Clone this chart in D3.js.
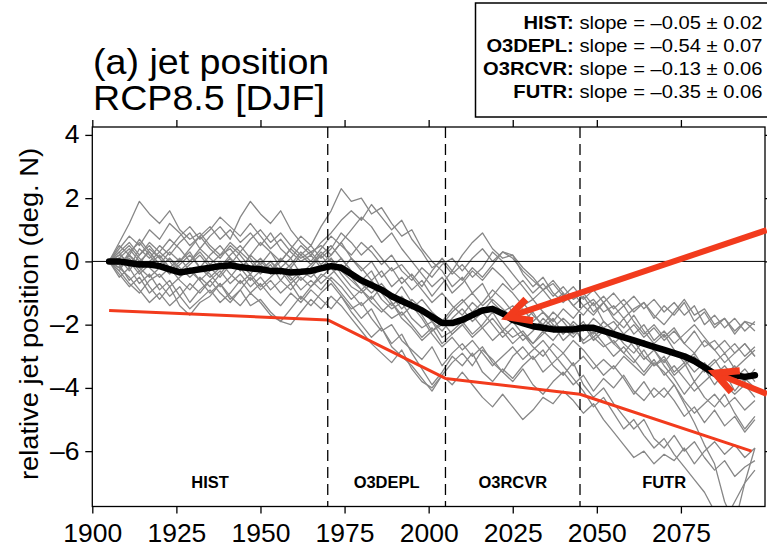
<!DOCTYPE html>
<html><head><meta charset="utf-8">
<script src="https://cdn.jsdelivr.net/npm/d3@7"></script>
<style>body{margin:0;background:#fff} svg{display:block;font-family:"Liberation Sans",Arial,Helvetica,sans-serif}</style>
</head><body><svg id="c" width="767" height="549"></svg>
<script>
// ---------------- DATA ----------------
const years = [1905,1908,1911,1914,1917,1920,1923,1926,1929,1932,1935,1938,1941,1944,1947,
  1950,1953,1956,1959,1962,1965,1968,1971,1974,1977,1980,1983,1986,1989,1992,1995,1998,2001,2004,2007,
  2010,2013,2016,2019,2022,2025,2028,2031,2034,2037,2040,2043,2046,2049,2052,2055,2058,2061,2064,2067,
  2070,2073,2076,2079,2082,2085,2088,2091,2094,2097];

const ensembleMean = [0,0,-0.05,-0.1,-0.1, -0.15,-0.25,-0.35,-0.3,-0.25, -0.2,-0.15,-0.12,-0.18,-0.22,
  -0.25,-0.3,-0.3,-0.35,-0.33, -0.3,-0.22,-0.15,-0.2,-0.4, -0.6,-0.75,-0.9,-1.1,-1.25,
  -1.4,-1.55,-1.75,-1.95,-1.95, -1.85,-1.7,-1.55,-1.5,-1.65, -1.85,-1.95,-2.05,-2.1,-2.15,
  -2.15,-2.15,-2.1,-2.1,-2.2, -2.3,-2.4,-2.5,-2.6,-2.7, -2.8,-2.9,-3.0,-3.15,-3.35, -3.55,-3.6,-3.6,-3.65,-3.6];

const member01 = [0,0.6,1.2,1.9,1.5, 1.2,1.6,1.0,0.7,0.9, 0.5,0.2,0.4,0.0,-0.3, -0.1,-0.4,-0.2,-0.6,-0.3, -0.5,-0.2,0.1,-0.4,-0.8, -1.0,-0.7,-1.2,-1.5,-1.3, -1.8,-2.1,-1.9,-2.4,-2.2, -1.9,-2.3,-2.0,-1.6,-2.1, -2.4,-2.2,-2.6,-2.3,-2.0, -2.5,-2.2,-1.9,-2.4,-2.7, -2.5,-2.9,-3.2,-2.8,-3.3, -3.0,-3.5,-3.2,-3.8,-3.4, -3.9,-3.5,-4.1,-3.7,-4.0];
const member02 = [0,0.3,-0.2,0.4,0.1, 0.5,0.2,0.6,0.9,0.4, 0.8,1.1,0.7,1.4,1.9, 1.5,1.2,1.6,1.0,0.6, 0.3,0.5,0.2,0.6,0.1, -0.3,0.0,-0.5,-0.2,-0.7, -0.4,-0.8,-0.3,0.1,-0.3, 0.2,0.6,0.9,0.4,0.1, 0.2,-0.4,-0.8,-0.5,-1.0, -1.3,-1.0,-1.4,-1.2,-1.6, -1.4,-1.8,-1.5,-1.3,-1.7, -2.0,-1.6,-1.2,-1.7,-1.5, -2.0,-1.8,-2.2,-1.9,-2.0];
const member03 = [0,-0.3,0.2,-0.1,0.4, 0.1,-0.3,0.0,0.3,-0.2, 0.2,0.5,0.1,-0.3,0.2, 0.6,0.3,0.0,0.4,0.8, 0.5,1.1,1.6,2.3,1.9, 2.0,1.5,1.7,1.2,0.8, 1.0,0.4,0.0,-0.3,-0.8, -0.5,-1.0,-0.7,-1.3,-1.6, -1.4,-1.9,-1.6,-2.1,-1.8, -2.3,-2.0,-2.6,-2.4,-2.1, -2.6,-2.9,-2.5,-3.0,-3.3, -3.1,-3.6,-3.3,-3.0,-3.5, -3.2,-2.9,-3.4,-3.1,-2.8];
const member04 = [0,-0.4,-0.8,-0.5,-1.0, -0.7,-1.1,-0.8,-1.3,-0.9, -0.6,-1.0,-1.3,-0.9,-1.4, -1.2,-1.6,-1.9,-1.5,-1.1, -1.4,-1.0,-0.7,-1.1,-1.5, -1.3,-1.8,-2.2,-2.0,-2.5, -2.8,-3.1,-2.7,-3.3,-2.9, -2.6,-3.0,-2.7,-3.2,-3.5, -3.0,-2.7,-3.1,-2.8,-3.3, -3.6,-3.2,-3.9,-4.3,-4.0, -4.5,-4.9,-5.3,-5.0,-5.6, -5.9,-5.5,-6.0,-5.7,-6.2, -6.6,-6.3,-6.8,-6.5,-6.3];
const member05 = [0,0.2,0.5,0.1,-0.2, -0.5,-0.2,-0.6,-0.9,-0.5, -0.8,-0.4,0.0,-0.3,0.2, -0.1,0.3,-0.2,0.1,-0.4, -0.2,0.2,0.5,0.1,-0.3, -0.6,-0.3,-0.9,-1.2,-0.8, -1.3,-1.7,-2.2,-2.0,-1.6, -1.3,-1.0,-1.4,-1.1,-0.7, -1.0,-1.4,-1.2,-1.6,-1.9, -1.5,-1.8,-1.4,-1.7,-1.3, -1.7,-1.4,-1.9,-2.3,-2.0, -2.4,-2.1,-2.6,-2.2,-2.7, -2.5,-2.9,-2.6,-3.0,-2.7];
const member06 = [0,-0.2,0.1,-0.3,0.0, 0.3,0.0,-0.4,-0.1,0.2, -0.2,-0.5,-0.1,0.3,0.0, -0.4,-0.1,-0.6,-0.9,-0.5, -0.8,-0.4,-0.6,-1.0,-1.4, -1.8,-1.5,-2.1,-2.6,-2.3, -2.9,-3.4,-3.9,-3.5,-3.0, -3.3,-2.9,-3.5,-3.8,-3.4, -3.7,-3.3,-3.0,-3.5,-3.2, -2.9,-3.3,-3.0,-3.4,-3.1, -3.4,-3.0,-3.3,-3.6,-3.2, -3.5,-3.9,-4.5,-5.1,-5.8, -6.4,-7.6,-8.3,-7.0,-5.9];
const member07 = [0,-0.5,-0.2,-0.7,-0.4, -0.9,-0.6,-1.1,-1.5,-1.2, -0.9,-1.3,-1.0,-0.6,-1.0, -0.7,-1.1,-1.4,-1.0,-1.3, -0.9,-1.2,-1.5,-1.1,-1.6, -2.0,-2.4,-2.1,-2.7,-3.0, -3.3,-3.7,-4.1,-3.6,-3.9, -3.5,-3.9,-4.3,-4.6,-4.2, -4.6,-5.0,-4.7,-4.3,-4.5, -4.1,-4.4,-4.8,-4.5,-5.0, -5.4,-5.8,-6.2,-6.0,-6.4, -6.1,-6.3,-5.9,-6.4,-6.0, -5.7,-6.1,-5.8,-6.2,-5.9];
const member08 = [0,0.4,0.8,0.5,1.0, 0.7,1.2,0.9,0.5,0.8, 0.4,0.1,0.5,0.2,-0.2, 0.1,-0.3,0.0,0.4,0.1, 0.3,-0.1,0.2,0.6,1.0, 1.4,1.1,0.6,0.9,0.4, 0.0,-0.4,-0.8,-0.5,-1.0, -0.7,-0.3,-0.6,-0.2,-0.5, -0.9,-0.6,-1.0,-0.7,-1.1, -0.8,-1.2,-1.0,-1.4,-1.1, -1.5,-1.2,-1.6,-1.3,-1.8, -1.4,-1.7,-1.3,-1.9,-1.6, -2.1,-1.8,-2.3,-1.9,-2.2];
const member09 = [0,-0.1,-0.6,-0.3,-0.8, -1.2,-0.8,-1.4,-1.7,-1.3, -1.1,-0.7,-1.2,-0.9,-0.5, -0.9,-0.6,-1.0,-0.7,-1.2, -0.8,-0.5,-0.2,-0.6,-1.0, -1.4,-1.1,-1.5,-1.8,-1.6, -2.0,-2.4,-2.1,-2.6,-2.3, -2.0,-1.7,-2.1,-2.5,-2.2, -2.6,-2.3,-2.7,-3.0,-2.6, -2.9,-2.5,-2.8,-3.2,-3.6, -3.3,-3.7,-4.2,-3.8,-4.3, -4.0,-4.4,-4.9,-4.6,-5.1, -4.7,-5.2,-4.9,-5.4,-5.0];
const member10 = [0,0.5,0.2,0.7,0.3, -0.1,0.3,0.0,0.4,0.8, 1.1,0.7,1.0,0.6,0.9, 0.5,0.9,0.4,0.1,0.5, 0.2,0.6,0.9,1.3,1.6, 1.3,1.8,1.4,1.0,1.3, 0.7,0.3,-0.2,0.0,-0.4, -0.1,-0.5,-0.2,0.3,0.0, -0.4,-0.8,-1.2,-0.9,-1.3, -1.0,-1.4,-1.7,-1.3,-1.9, -2.2,-1.8,-2.3,-2.0,-2.5, -2.2,-2.6,-2.3,-2.0,-2.4, -2.8,-2.5,-2.9,-2.6,-3.0];
const member11 = [0,-0.3,-0.7,-1.0,-0.6, -0.4,-0.8,-0.5,-0.2,-0.6, -1.0,-0.7,-1.1,-1.4,-1.0, -1.3,-1.7,-1.9,-2.0,-1.6, -1.2,-1.5,-1.1,-1.4,-1.8, -2.2,-2.6,-2.9,-3.2,-2.8, -3.4,-3.8,-4.0,-3.6,-3.2, -2.9,-3.3,-2.8,-3.1,-3.5, -3.8,-3.4,-3.9,-4.2,-3.8, -3.5,-3.9,-3.6,-4.1,-3.7, -4.0,-3.6,-4.1,-4.4,-4.0, -4.3,-3.9,-4.4,-4.8,-4.5, -4.2,-4.6,-4.3,-4.7,-4.4];
const member12 = [0,0.1,-0.3,0.2,0.6, 0.3,0.7,0.4,0.0,0.3, -0.1,0.2,0.6,0.3,0.7, 1.0,0.6,0.9,0.5,0.2, -0.1,0.3,0.0,-0.3,0.1, -0.2,-0.6,-0.3,-0.8,-0.5, -0.9,-0.6,-1.1,-0.7,-0.3, -0.6,-0.2,-0.5,-0.1,0.3, 0.2,-0.2,-0.5,-0.9,-0.6, -1.0,-1.4,-1.1,-1.6,-1.3, -1.8,-2.1,-1.7,-2.2,-2.6, -2.3,-2.8,-3.2,-2.9,-3.4, -3.1,-3.6,-3.3,-3.8,-3.4];
const member13 = [0,0.2,0.0,-0.4,-0.1, 0.2,-0.2,0.1,-0.3,-0.6, -0.3,0.0,-0.4,-0.7,-0.4, -0.8,-0.5,-0.2,-0.5,-0.9, -0.6,-0.9,-0.5,-0.8,-1.2, -0.9,-1.3,-1.6,-1.3,-1.8, -2.1,-2.5,-2.2,-1.9,-2.3, -2.0,-2.4,-2.1,-1.8,-2.2, -1.9,-2.3,-2.6,-2.2,-2.5, -2.1,-2.4,-2.0,-2.3,-1.9, -2.2,-2.6,-2.9,-2.5,-2.8, -3.2,-2.8,-3.1,-3.5,-3.2, -3.6,-3.3,-3.7,-3.4,-3.8];
const member14 = [0,0.3,0.6,0.2,0.5, 0.1,0.4,0.8,1.1,0.7, 1.0,1.4,1.1,0.8,1.2, 0.8,0.4,0.7,0.3,0.0, 0.2,-0.2,0.1,-0.3,-0.6, -0.9,-0.6,-1.0,-1.4,-1.1, -1.5,-1.2,-1.6,-1.9,-1.5, -1.2,-1.6,-1.3,-0.9,-1.2, -1.6,-1.3,-1.7,-2.0,-1.6, -1.9,-2.3,-2.0,-2.5,-2.2, -2.6,-2.3,-2.7,-3.1,-2.8, -3.3,-3.7,-4.2,-3.8,-4.3, -4.6,-4.2,-4.8,-5.3,-4.9];
const member15 = [0,-0.2,-0.5,-0.9,-1.3, -1.0,-1.4,-1.1,-0.7,-1.0, -0.6,-0.3,-0.7,-0.4,-0.8, -0.5,-0.9,-0.6,-0.2,-0.6, -0.3,-0.7,-0.4,-0.1,-0.5, -0.9,-1.2,-0.8,-1.3,-1.7, -1.4,-1.8,-2.3,-2.7,-2.4, -2.8,-2.5,-2.9,-3.3,-3.0, -2.7,-3.1,-2.8,-2.5,-2.9, -3.3,-3.7,-4.1,-4.6,-4.3, -4.8,-5.3,-5.0,-5.5,-5.9, -5.6,-6.1,-6.5,-6.9,-7.3, -7.9,-8.2,-7.6,-7.0,-6.6];
const member16 = [0,-0.2,0.3,0.6,0.2, -0.2,0.1,-0.3,0.0,0.4, 0.1,-0.2,0.2,0.5,0.1, -0.3,0.0,-0.4,-0.1,0.3, 0.0,0.4,0.8,0.5,0.2, 0.6,0.3,-0.1,0.2,-0.3, -0.6,-0.2,-0.5,-0.1,0.1, -0.3,0.1,0.4,0.0,0.3, 0.1,-0.3,-0.6,-0.9,-0.7, -1.1,-0.8,-1.2,-0.9,-1.3, -1.0,-1.4,-1.1,-1.5,-1.2, -1.6,-1.3,-1.7,-1.4,-2.0, -1.7,-2.1,-1.8,-2.2,-1.9];
const member17 = [0,0.1,0.4,0.0,0.3, -0.1,-0.4,-0.1,0.2,-0.2, -0.5,-0.2,0.1,-0.2,-0.6, -0.3,0.0,-0.3,-0.7,-0.4, -0.1,0.2,-0.2,0.1,-0.3, -0.7,-1.0,-0.7,-1.1,-1.5, -1.2,-1.5,-1.9,-2.2,-1.8, -1.5,-1.9,-1.6,-2.0,-2.4, -2.1,-2.5,-2.2,-1.8,-2.1, -1.8,-2.1,-2.5,-2.2,-2.6, -3.0,-2.7,-3.1,-3.5,-3.1, -3.6,-3.3,-3.7,-4.1,-3.8, -3.5,-3.9,-4.2,-3.9,-4.3];
const member18 = [0,-0.1,0.2,-0.2,-0.5, -0.2,0.1,-0.2,-0.5,-0.2, -0.4,-0.8,-0.5,-0.1,-0.4, 0.0,-0.3,0.1,-0.2,0.2, 0.5,0.1,0.4,0.9,0.6, 0.2,0.5,0.1,-0.3,-0.1, -0.5,-0.9,-1.3,-1.0,-1.4, -1.7,-1.3,-1.6,-1.2,-1.5, -1.8,-1.5,-1.9,-1.6,-2.0, -2.3,-1.9,-2.2,-1.8,-2.1, -1.9,-2.3,-2.0,-2.4,-2.1, -2.5,-2.2,-2.6,-2.9,-2.5, -2.8,-3.2,-2.9,-2.6,-3.0];

const trendYears = [1905, 1970, 2005, 2045, 2096];
const trendValues = [-1.55, -1.85, -3.7, -4.2, -6.0];

const periodBounds = [1970, 2005, 2045];
const periodNames = ["HIST", "O3DEPL", "O3RCVR", "FUTR"];
const periodCenters = [1935, 1987.5, 2025, 2070];

const slopeNames = ["HIST:", "O3DEPL:", "O3RCVR:", "FUTR:"];
const slopeValues = ["\u20130.05", "\u20130.54", "\u20130.13", "\u20130.35"];
const slopeErrors = ["0.02", "0.07", "0.06", "0.06"];

const xTicks = [1900, 1925, 1950, 1975, 2000, 2025, 2050, 2075];
const yTicks = [-6, -4, -2, 0, 2, 4];

// annotation arrows (data units): [tail, tip]
const arrowTails = [[2100.5, 0.99], [2100.6, -4.19]];
const arrowTips  = [[2023.7, -1.76], [2085.1, -3.53]];

// ---------------- DRAW ----------------
const members = [member01,member02,member03,member04,member05,member06,member07,member08,member09,
  member10,member11,member12,member13,member14,member15,member16,member17,member18];

const svg = d3.select("#c");
const L = 92.3, R = 765, T = 127, B = 506.5;
const x = d3.scaleLinear([1900, 2100], [L, R]);
const y = d3.scaleLinear([-7.75, 4.25], [B, T]);
const RED = "#f23b1d";

svg.append("defs").append("clipPath").attr("id","clip")
  .append("rect").attr("x",L).attr("y",T).attr("width",R-L).attr("height",B-T);

const line = d3.line().x((d,i)=>x(years[i])).y(d=>y(d));
const plot = svg.append("g").attr("clip-path","url(#clip)");

plot.selectAll("path.mem").data(members).join("path")
  .attr("class","mem").attr("d", line)
  .attr("fill","none").attr("stroke","#878787").attr("stroke-width",1.3)
  .attr("stroke-linejoin","round");

// zero line
plot.append("line").attr("x1",L).attr("x2",R).attr("y1",y(0)).attr("y2",y(0))
  .attr("stroke","#000").attr("stroke-width",1);

// dashed period bounds
svg.selectAll("line.per").data(periodBounds).join("line").attr("class","per")
  .attr("x1",d=>x(d)).attr("x2",d=>x(d)).attr("y1",T).attr("y2",B)
  .attr("stroke","#000").attr("stroke-width",1.3).attr("stroke-dasharray","11,6");

// red trend
const tline = d3.line().x((d,i)=>x(trendYears[i])).y(d=>y(d));
plot.append("path").attr("d", tline(trendValues)).attr("fill","none")
  .attr("stroke",RED).attr("stroke-width",3).attr("stroke-linejoin","round");

// ensemble mean
plot.append("path").attr("d", line(ensembleMean)).attr("fill","none")
  .attr("stroke","#000").attr("stroke-width",6.5).attr("stroke-linejoin","round").attr("stroke-linecap","round");

// frame
svg.append("rect").attr("x",L).attr("y",T).attr("width",R-L).attr("height",B-T)
  .attr("fill","none").attr("stroke","#000").attr("stroke-width",1.3);

const fmt = d => d < 0 ? "\u2013" + Math.abs(d) : String(d);

// axes
const ax = (g) => { g.select(".domain").remove(); g.selectAll(".tick line").attr("stroke","#000").attr("stroke-width",1.3); };
svg.append("g").attr("transform",`translate(0,${B})`)
  .call(d3.axisBottom(x).tickValues(xTicks).tickSize(7).tickPadding(10.5).tickFormat(d3.format("d")))
  .call(ax)
  .call(g=>g.selectAll("text").attr("font-size",25).attr("fill","#000").attr("font-family","Liberation Sans, Arial, sans-serif").attr("transform","scale(1.06,1)"));
svg.append("g").attr("transform",`translate(0,${T})`)
  .call(d3.axisTop(x).tickValues(xTicks).tickSize(7).tickFormat(""))
  .call(ax);
svg.append("g").attr("transform",`translate(${L},0)`)
  .call(d3.axisLeft(y).tickValues(yTicks).tickSize(7).tickPadding(5).tickFormat(fmt))
  .call(ax)
  .call(g=>g.selectAll("text").attr("font-size",25).attr("fill","#000").attr("font-family","Liberation Sans, Arial, sans-serif").attr("transform","scale(1.06,1)"));
svg.append("g").attr("transform",`translate(${R},0)`)
  .call(d3.axisRight(y).tickValues(yTicks).tickSize(7).tickFormat(""))
  .call(ax);

// period labels
svg.selectAll("g.plab").data(periodNames).join("g").attr("class","plab")
  .attr("transform",(d,i)=>`translate(${x(periodCenters[i])},488) scale(1.03,1)`)
  .append("text").attr("text-anchor","middle").attr("font-size",16).attr("font-weight","bold").text(d=>d);

// y label
svg.append("g").attr("transform","translate(37.5,314) rotate(-90) scale(1.05,1)")
  .append("text").attr("text-anchor","middle").attr("font-size",26).text("relative jet position (deg. N)");

// title
const title = svg.append("g");
title.append("g").attr("transform","translate(93,74) scale(1.075,1)")
  .append("text").attr("font-size",35).text("(a) jet position");
title.append("g").attr("transform","translate(93,110) scale(1.075,1)")
  .append("text").attr("font-size",35).text("RCP8.5 [DJF]");

// legend box
svg.append("rect").attr("x",475.5).attr("y",3).attr("width",300).attr("height",114)
  .attr("fill","#fff").attr("stroke","#000").attr("stroke-width",1.5);
const rows = svg.selectAll("g.leg").data(slopeNames).join("g").attr("class","leg")
  .attr("transform",(d,i)=>`translate(762.5,${28.5 + i*23}) scale(1.12,1)`);
const lt = rows.append("text").attr("text-anchor","end").attr("font-size",18);
lt.append("tspan").attr("font-weight","bold").text(d=>d);
lt.append("tspan").text((d,i)=>` slope = ${slopeValues[i]} \u00b1 ${slopeErrors[i]}`);

// arrows
const arr = svg.append("g");
arrowTips.forEach((tip,i)=>{
  const tx = x(tip[0]), ty = y(tip[1]);
  const sx = x(arrowTails[i][0]), sy = y(arrowTails[i][1]);
  const ang = Math.atan2(sy-ty, sx-tx);
  const a = 27*Math.PI/180, len = 25;
  const p1 = [tx+len*Math.cos(ang-a), ty+len*Math.sin(ang-a)];
  const p2 = [tx+len*Math.cos(ang+a), ty+len*Math.sin(ang+a)];
  arr.append("line").attr("x1",sx).attr("y1",sy).attr("x2",tx+2*Math.cos(ang)).attr("y2",ty+2*Math.sin(ang))
    .attr("stroke",RED).attr("stroke-width",6);
  arr.append("path").attr("d",`M${p1[0]},${p1[1]}L${tx},${ty}L${p2[0]},${p2[1]}`)
    .attr("fill","none").attr("stroke",RED).attr("stroke-width",7).attr("stroke-linejoin","miter");
});
</script></body></html>
